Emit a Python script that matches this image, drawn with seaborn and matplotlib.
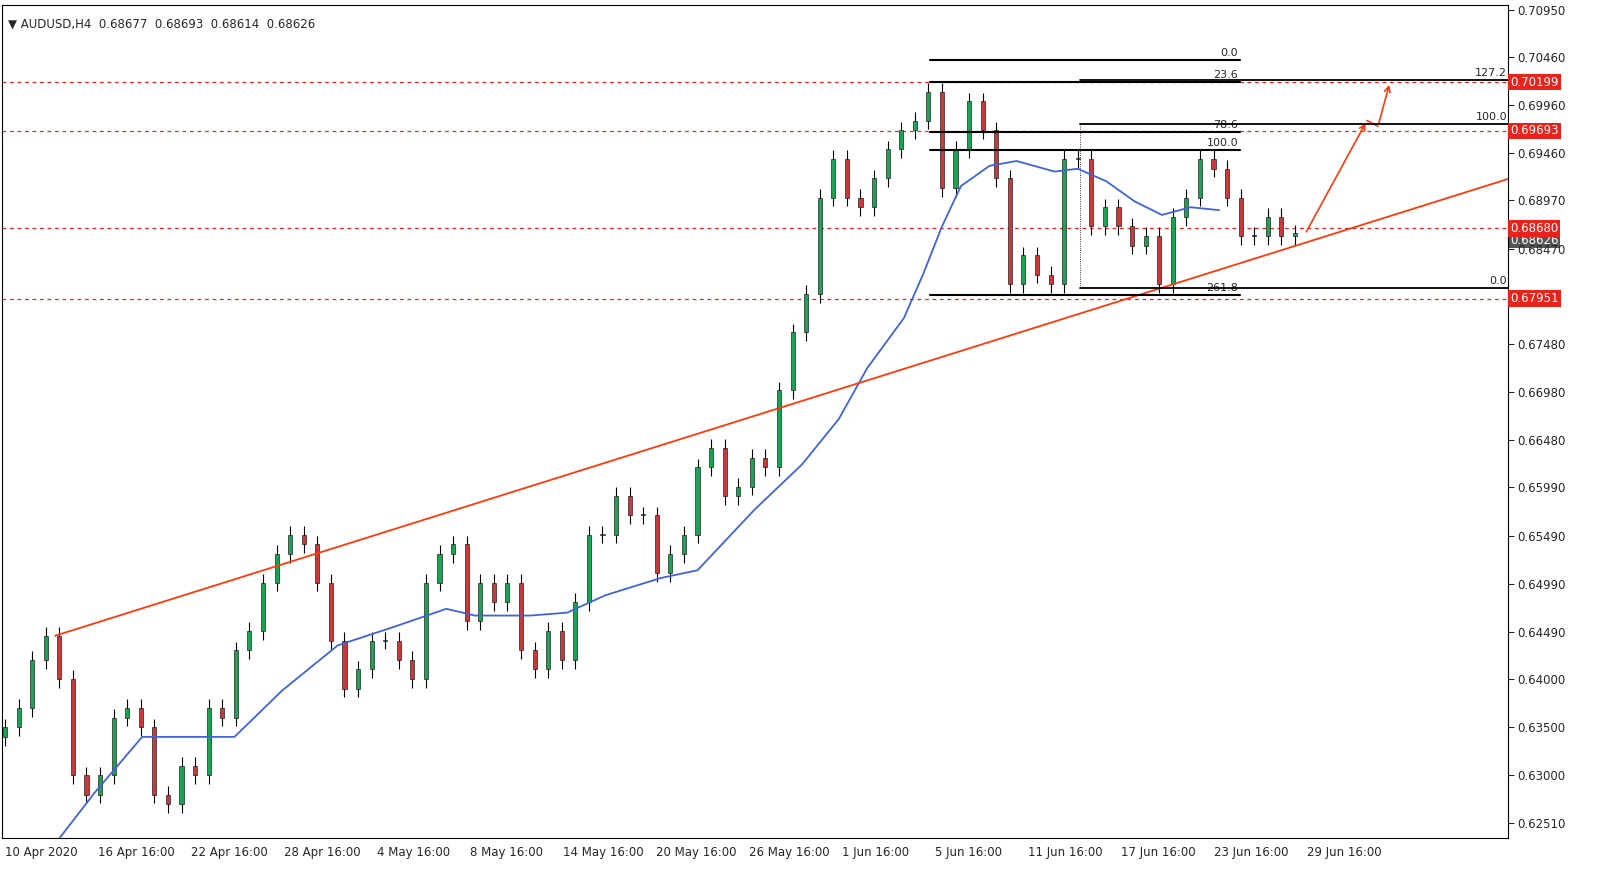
import matplotlib
matplotlib.use("Agg")
import matplotlib.pyplot as plt
import seaborn as sns
import numpy as np
import pandas as pd

sns.set_style("white")
plt.rcParams['font.family'] = ['DejaVu Sans']

# Closing prices (approx., one candle per ~16h)
closes = [0.6350, 0.6370, 0.6420, 0.6445, 0.6400, 0.6300, 0.6280, 0.6300, 0.6360, 0.6370,
          0.6350, 0.6280, 0.6270, 0.6310, 0.6300, 0.6370, 0.6360, 0.6430, 0.6450, 0.6500,
          0.6530, 0.6550, 0.6540, 0.6500, 0.6440, 0.6390, 0.6410, 0.6440, 0.6440, 0.6420,
          0.6400, 0.6500, 0.6530, 0.6540, 0.6460, 0.6500, 0.6480, 0.6500, 0.6430, 0.6410,
          0.6450, 0.6420, 0.6480, 0.6550, 0.6550, 0.6590, 0.6570, 0.6570, 0.6510, 0.6530,
          0.6550, 0.6620, 0.6640, 0.6590, 0.6600, 0.6630, 0.6620, 0.6700, 0.6760, 0.6800,
          0.6900, 0.6940, 0.6900, 0.6890, 0.6920, 0.6950, 0.6970, 0.6980, 0.7010, 0.6910,
          0.6950, 0.7000, 0.6970, 0.6920, 0.6810, 0.6840, 0.6820, 0.6810, 0.6940, 0.6940,
          0.6870, 0.6890, 0.6870, 0.6850, 0.6860, 0.6810, 0.6880, 0.6900, 0.6940, 0.6930,
          0.6900, 0.6860, 0.6860, 0.6880, 0.6860, 0.6863]
# 100-period moving average, read at candle indices
ma_idx = [3.8, 6.6, 10.1, 13.5, 16.9, 20.4, 24.5, 28.8, 32.5, 34.6, 38.7, 41.4, 44.2, 48.3,
          51.0, 55.2, 58.7, 61.4, 63.5, 66.2, 67.6, 69.0, 70.4, 72.5, 74.5, 77.3, 79.0,
          81.1, 83.2, 85.2, 87.3, 89.4]
ma_val = [0.6231, 0.6282, 0.6340, 0.6340, 0.6340, 0.6388, 0.6435, 0.6455, 0.6473, 0.6466,
          0.6466, 0.6469, 0.6487, 0.6505, 0.6513, 0.6576, 0.6623, 0.6670, 0.6723, 0.6775,
          0.6820, 0.6870, 0.6912, 0.6933, 0.6938, 0.6927, 0.6930, 0.6917, 0.6896, 0.6882,
          0.6890, 0.6887]
yticks = [0.62510, 0.63000, 0.63500, 0.64000, 0.64490, 0.64990, 0.65490, 0.65990, 0.66480,
          0.66980, 0.67480, 0.67970, 0.68470, 0.68970, 0.69460, 0.69960, 0.70460, 0.70950]
xlabels = ["10 Apr 2020", "16 Apr 16:00", "22 Apr 16:00", "28 Apr 16:00", "4 May 16:00",
           "8 May 16:00", "14 May 16:00", "20 May 16:00", "26 May 16:00", "1 Jun 16:00",
           "5 Jun 16:00", "11 Jun 16:00", "17 Jun 16:00", "23 Jun 16:00", "29 Jun 16:00"]
levels = [0.70199, 0.69693, 0.68680, 0.67951]

n = len(closes)
W, H = 1622, 888
fig = plt.figure(figsize=(W/100, H/100), dpi=100)
ax = fig.add_axes([2/W, 1-838/H, 1506/W, 833/H])
ppx = 1290/(n-1)
def px(x):  # pixel -> candle index units
    return (x-5)/ppx
ax.set_xlim(px(2), px(1508))
ax.set_ylim(0.62350, 0.71000)

df = pd.DataFrame({"close": closes})
df["open"] = df["close"].shift(1).fillna(0.6340)
wick = 0.0009
df["high"] = df[["open", "close"]].max(axis=1) + wick
df["low"] = df[["open", "close"]].min(axis=1) - wick
for i, r in df.iterrows():
    up = r.close >= r.open
    ax.vlines(i, r.low, r.high, color="black", lw=0.8, zorder=2)
    b0, b1 = min(r.open, r.close), max(r.open, r.close)
    ax.bar(i, max(b1-b0, 0.0001), bottom=b0, width=0.3,
           color="#1aa352" if up else "#c8393c", edgecolor="black", lw=0.4, zorder=3)

sns.lineplot(x=ma_idx, y=ma_val, ax=ax, color="#3e63dd", lw=1.3, zorder=4)

# trendline and arrows
ax.plot([px(55), px(1510)], [0.6445, 0.6920], color="#ff3a0a", lw=1.3, zorder=5)
ax.annotate("", xy=(px(1367), 0.6980), xytext=(px(1305), 0.6862),
            arrowprops=dict(arrowstyle="->", color="#ff3a0a", lw=1.2))
ax.annotate("", xy=(px(1390), 0.7020), xytext=(px(1378), 0.6974),
            arrowprops=dict(arrowstyle="->", color="#ff3a0a", lw=1.2))
ax.plot([px(1367), px(1378)], [0.6980, 0.6974], color="#ff3a0a", lw=1.2)

# fibo lines
fib1 = [(0.7043, "0.0"), (0.7020, "23.6"), (0.6949, "100.0"), (0.6799, "261.8")]
for y, t in fib1:
    ax.plot([px(930), px(1240)], [y, y], color="black", lw=1.5, zorder=5)
    ax.text(px(1238), y+0.0002, t, ha="right", va="bottom", fontsize=8)
ax.plot([px(930), px(1240)], [0.6968, 0.6968], color="black", lw=1.5, zorder=5)
ax.text(px(1238), 0.6968+0.0002, "78.6", ha="right", va="bottom", fontsize=8)
fib2 = [(0.6806, "0.0"), (0.6976, "100.0"), (0.7022, "127.2")]
for y, t in fib2:
    ax.plot([px(1080), px(1510)], [y, y], color="black", lw=1.3, zorder=5)
    ax.text(px(1507), y+0.0002, t, ha="right", va="bottom", fontsize=8)
ax.plot([px(1080), px(1080)], [0.6806, 0.6976], color="black", lw=0.6, ls=":")

for lv in levels:
    ax.axhline(lv, color="#e8231c", lw=0.9, ls=(0, (3, 3)), zorder=1)

ax.yaxis.tick_right()
ax.set_yticks(yticks)
ax.set_yticklabels([("" if abs(v-0.67970) < 1e-6 else f"{v:.5f}") for v in yticks], fontsize=8.5)
ax.tick_params(axis="y", length=4, pad=3)
for lv in levels:
    ax.text(1.0015, lv, f"{lv:.5f}", transform=ax.get_yaxis_transform(), ha="left", va="center",
            fontsize=8.5, color="white", zorder=10,
            bbox=dict(boxstyle="square,pad=0.15", fc="#e8231c", ec="none"))
ax.text(1.0015, 0.68626, "0.68626", transform=ax.get_yaxis_transform(), ha="left", va="top",
        fontsize=8.5, color="white", bbox=dict(boxstyle="square,pad=0.1", fc="#555555", ec="none"), zorder=0)

ax.set_xticks([px(5 + 93*k) for k in range(len(xlabels))])
ax.set_xticklabels(xlabels, fontsize=8.5)
for lab in ax.get_xticklabels():
    lab.set_horizontalalignment("left")
ax.tick_params(axis="x", length=4, pad=2)
for s in ax.spines.values():
    s.set_color("black"); s.set_linewidth(0.8)

ax.text(0.004, 0.985, "▼ AUDUSD,H4  0.68677  0.68693  0.68614  0.68626", transform=ax.transAxes,
        fontsize=8.5, va="top")
fig.savefig("out.png", dpi=100)
